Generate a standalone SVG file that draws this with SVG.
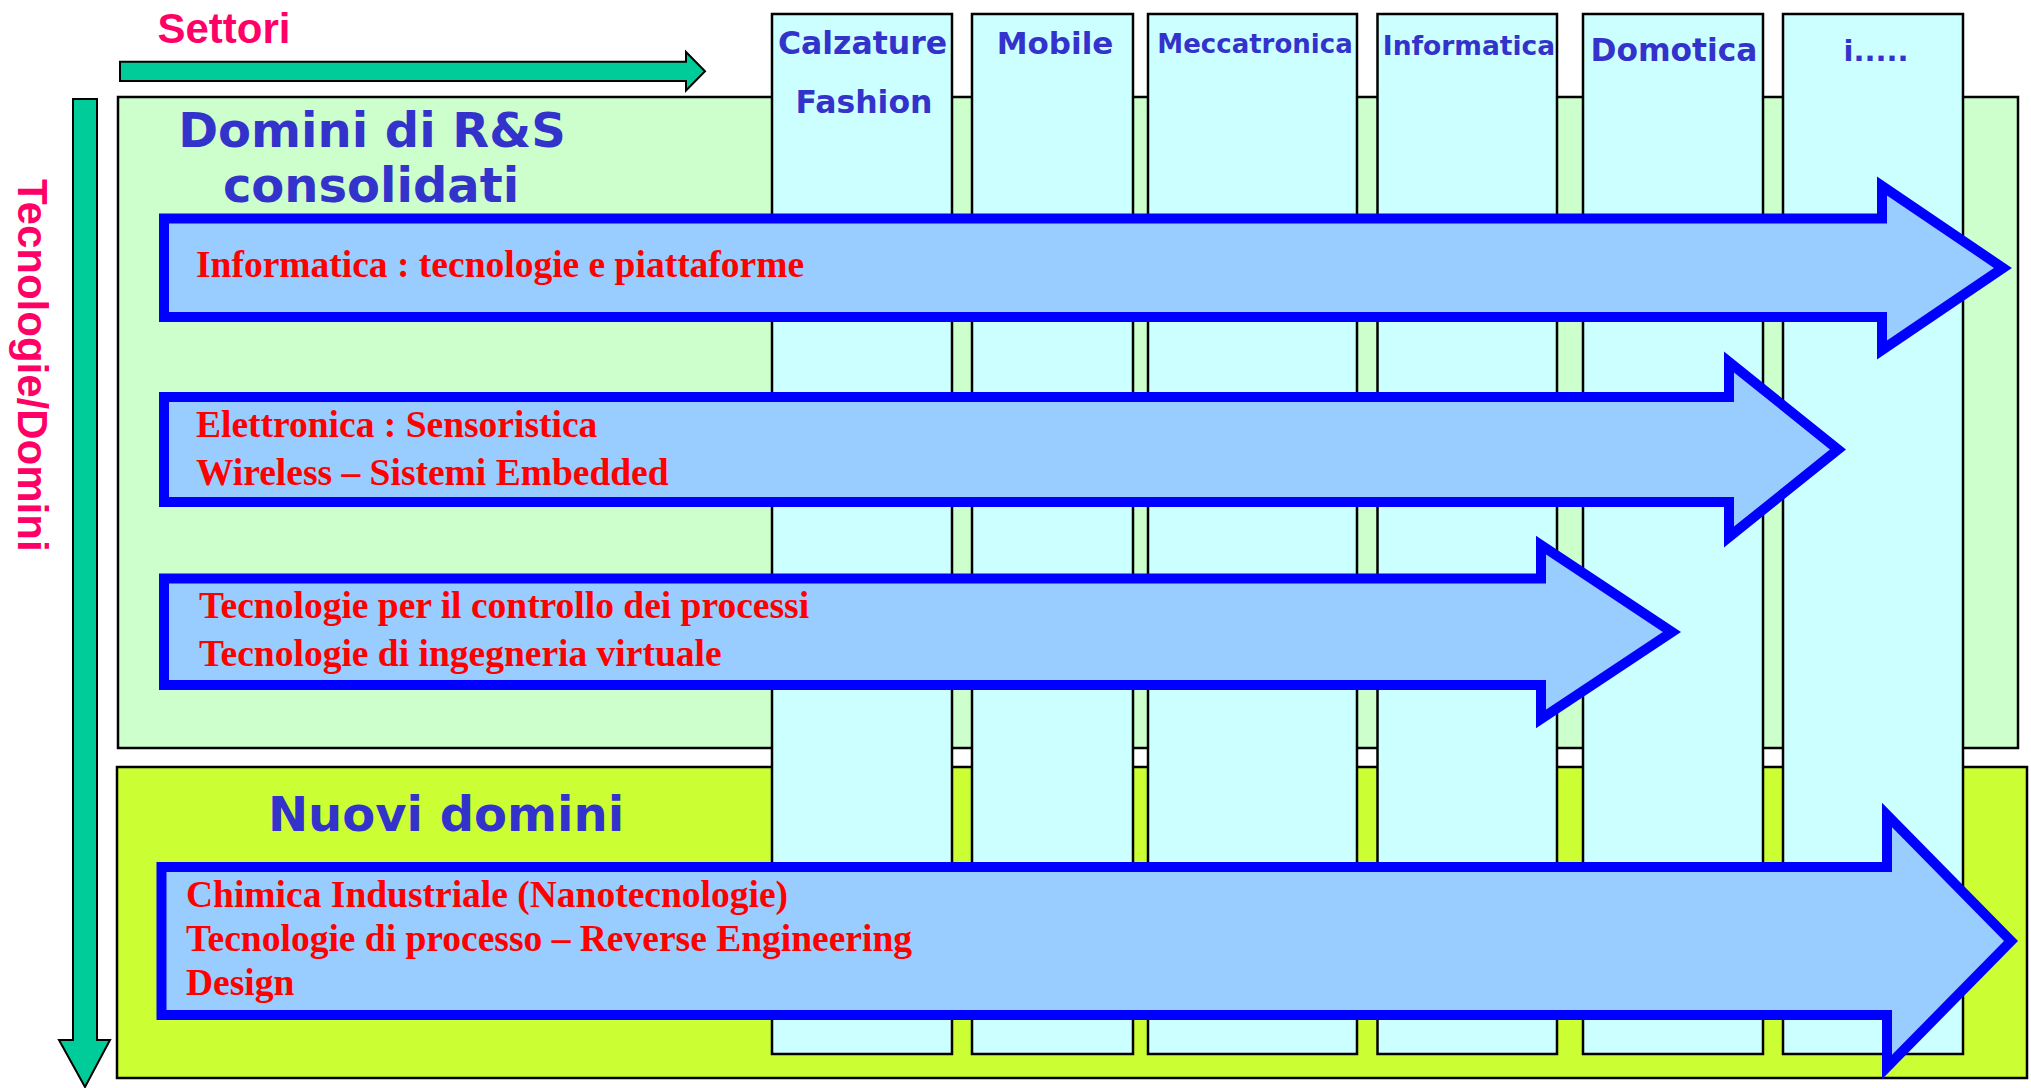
<svg xmlns="http://www.w3.org/2000/svg" width="2031" height="1088" viewBox="0 0 2031 1088">
<defs>
<style>
.axis{fill:#00CC99;stroke:#000;stroke-width:2;stroke-linejoin:miter}
.axlbl{font-family:"Liberation Sans",Arial,sans-serif;font-weight:bold;font-size:42px;fill:#FF0066}
.band{stroke:#000;stroke-width:2.5}
.col{fill:#CCFFFF;stroke:#000;stroke-width:2.5}
.title{font-family:"DejaVu Sans",Verdana,sans-serif;font-weight:bold;fill:#3333CC;text-anchor:middle}
.big{fill:#99CCFF;stroke:#0000FF;stroke-width:10;stroke-linejoin:miter;stroke-miterlimit:10}
.lbl{font-family:"Liberation Serif","Times New Roman",serif;font-weight:bold;font-size:37.5px;fill:#FF0000}
</style>
</defs>
<rect width="2031" height="1088" fill="#fff"/>

<g id="axis-settori">
<path class="axis" d="M120,61.7 H686 V52 L705,71.3 L686,90.5 V81 H120 Z"/>
<text class="axlbl" x="157.5" y="43">Settori</text>
</g>

<g id="axis-tecnologie">
<path class="axis" d="M73,99 H97 V1040 H110 L85,1087 L59,1040 H73 Z"/>
<text class="axlbl" transform="translate(18,179) rotate(90)" font-size="43">Tecnologie/Domini</text>
</g>

<g id="domini-consolidati">
<rect class="band" x="118" y="97" width="1900" height="651" fill="#CCFFCC"/>
</g>
<g id="nuovi-domini">
<rect class="band" x="117" y="767" width="1910" height="311" fill="#CCFF33"/>
</g>

<g id="sector-calzature">
<rect class="col" x="772" y="14" width="180" height="1040"/>
<text class="title" x="862.5" y="54" font-size="31.5">Calzature</text>
<text class="title" x="864" y="113" font-size="31.5">Fashion</text>
</g>
<g id="sector-mobile">
<rect class="col" x="972" y="14" width="161" height="1040"/>
<text class="title" x="1055" y="54" font-size="31">Mobile</text>
</g>
<g id="sector-meccatronica">
<rect class="col" x="1148" y="14" width="209" height="1040"/>
<text class="title" x="1255" y="53" font-size="26">Meccatronica</text>
</g>
<g id="sector-informatica">
<rect class="col" x="1377.5" y="14" width="179.5" height="1040"/>
<text class="title" x="1469" y="55" font-size="26.5">Informatica</text>
</g>
<g id="sector-domotica">
<rect class="col" x="1583" y="14" width="180" height="1040"/>
<text class="title" x="1674" y="61" font-size="31.3">Domotica</text>
</g>
<g id="sector-altri">
<rect class="col" x="1783" y="14" width="180" height="1040"/>
<text class="title" x="1876" y="61" font-size="29">i.....</text>
</g>

<g id="titles">
<text class="title" x="372" y="147" font-size="48">Domini di R&amp;S</text>
<text class="title" x="371" y="202" font-size="48">consolidati</text>
<text class="title" x="446" y="831" font-size="48">Nuovi domini</text>
</g>

<g id="arrow-informatica">
<path class="big" d="M164,218.5 H1882 V186 L2003,268 L1882,350 V317 H164 Z"/>
<text class="lbl" x="196" y="277">Informatica : tecnologie e piattaforme</text>
</g>
<g id="arrow-elettronica">
<path class="big" d="M164,397 H1729 V362 L1838,449.5 L1729,537 V502 H164 Z"/>
<text class="lbl" x="196" y="437">Elettronica : Sensoristica</text>
<text class="lbl" x="196" y="485">Wireless – Sistemi Embedded</text>
</g>
<g id="arrow-processi">
<path class="big" d="M164,578.5 H1541 V545 L1672,632 L1541,719 V685 H164 Z"/>
<text class="lbl" x="199" y="618">Tecnologie per il controllo dei processi</text>
<text class="lbl" x="199" y="666">Tecnologie di ingegneria virtuale</text>
</g>
<g id="arrow-nuovi">
<path class="big" d="M161.5,867 H1887 V815 L2011,941 L1887,1067 V1015 H161.5 Z"/>
<text class="lbl" x="186" y="907">Chimica Industriale (Nanotecnologie)</text>
<text class="lbl" x="186" y="951">Tecnologie di processo – Reverse Engineering</text>
<text class="lbl" x="186" y="995">Design</text>
</g>
</svg>
